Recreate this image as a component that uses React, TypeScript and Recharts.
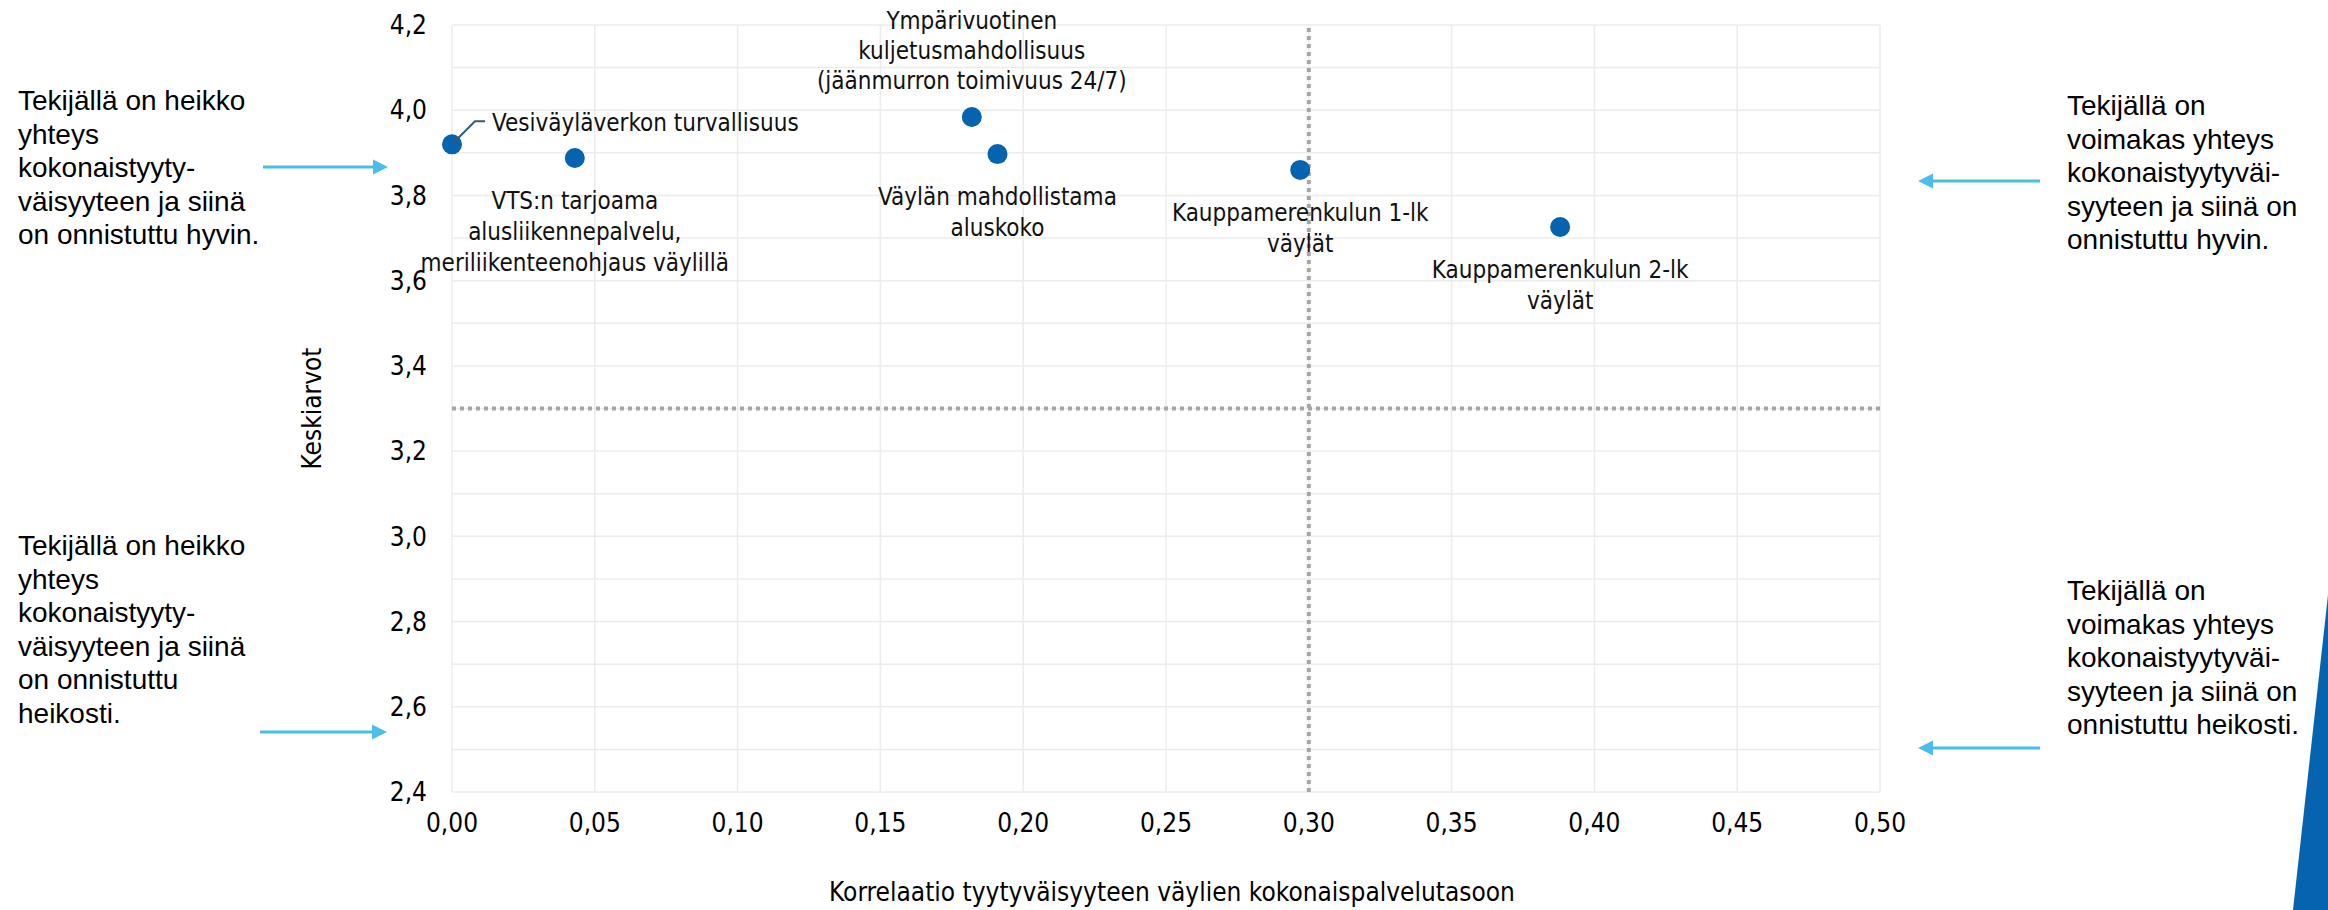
import React from 'react';
import {
  ScatterChart,
  Scatter,
  XAxis,
  YAxis,
  CartesianGrid,
  ReferenceLine,
} from 'recharts';

// factors (point labels, '\n' = line break)
const factorNames = [
  'Vesiväyläverkon turvallisuus',
  'VTS:n tarjoama\nalusliikennepalvelu,\nmeriliikenteenohjaus  väylillä',
  'Ympärivuotinen\nkuljetusmahdollisuus\n(jäänmurron toimivuus 24/7)',
  'Väylän mahdollistama\naluskoko',
  'Kauppamerenkulun 1-lk\nväylät',
  'Kauppamerenkulun 2-lk\nväylät',
];
// correlation with overall satisfaction
const correlations = [0.0, 0.043, 0.182, 0.191, 0.297, 0.388];
// mean scores
const means = [3.92, 3.888, 3.984, 3.897, 3.86, 3.726];
// where each label sits relative to its dot
const labelPlacement = ['leader', 'below', 'above', 'below', 'below', 'below'];

const xTicks = [0, 0.05, 0.1, 0.15, 0.2, 0.25, 0.3, 0.35, 0.4, 0.45, 0.5];
const yTicks = [2.4, 2.5, 2.6, 2.7, 2.8, 2.9, 3.0, 3.1, 3.2, 3.3, 3.4, 3.5, 3.6, 3.7, 3.8, 3.9, 4.0, 4.1, 4.2];

const dividerX = 0.3;
const dividerY = 3.3;

const xTitle = 'Korrelaatio tyytyväisyyteen väylien kokonaispalvelutasoon';
const yTitle = 'Keskiarvot';

const noteTopLeft = 'Tekijällä on heikko\nyhteys\nkokonaistyyty-\nväisyyteen ja siinä\non onnistuttu hyvin.';
const noteBottomLeft = 'Tekijällä on heikko\nyhteys\nkokonaistyyty-\nväisyyteen ja siinä\non onnistuttu\nheikosti.';
const noteTopRight = 'Tekijällä on\nvoimakas yhteys\nkokonaistyytyväi-\nsyyteen ja siinä on\nonnistuttu hyvin.';
const noteBottomRight = 'Tekijällä on\nvoimakas yhteys\nkokonaistyytyväi-\nsyyteen ja siinä on\nonnistuttu heikosti.';

const data = factorNames.map((name, i) => ({
  name,
  x: correlations[i],
  y: means[i],
  place: labelPlacement[i],
}));

const DOT = '#0563B0';
const ARROW = '#4BBDED';
const LABEL_FONT = '"DejaVu Sans Condensed", "DejaVu Sans", sans-serif';

const fmt = (v: number, d: number) => v.toFixed(d).replace('.', ',');

function PointShape(props: any) {
  const { cx, cy, payload } = props;
  const lines: string[] = payload.name.split('\n');
  const textProps = {
    fontFamily: LABEL_FONT,
    fontSize: 24,
    fill: '#111',
    dominantBaseline: 'central' as const,
  };
  let label: React.ReactNode = null;
  if (payload.place === 'leader') {
    label = (
      <g>
        <polyline
          points={`${cx},${cy} ${cx + 23},${cy - 23} ${cx + 33},${cy - 23}`}
          fill="none"
          stroke="#2E5E73"
          strokeWidth={2}
        />
        <text x={cx + 40} y={cy - 21} textAnchor="start" {...textProps}>
          {lines[0]}
        </text>
      </g>
    );
  } else if (payload.place === 'above') {
    label = lines.map((t, i) => (
      <text key={i} x={cx} y={cy - 36 - (lines.length - 1 - i) * 30} textAnchor="middle" {...textProps}>
        {t}
      </text>
    ));
  } else {
    label = lines.map((t, i) => (
      <text key={i} x={cx} y={cy + 43 + i * 31} textAnchor="middle" {...textProps}>
        {t}
      </text>
    ));
  }
  return (
    <g>
      <circle cx={cx} cy={cy} r={10} fill={DOT} />
      {label}
    </g>
  );
}

function Note({ text, left, top }: { text: string; left: number; top: number }) {
  return (
    <div
      style={{
        position: 'absolute',
        left,
        top,
        fontFamily: '"Liberation Sans", Arial, sans-serif',
        fontSize: 28,
        lineHeight: '33.6px',
        color: '#000',
        whiteSpace: 'pre',
      }}
    >
      {text}
    </div>
  );
}

function Arrow({ x1, x2, y }: { x1: number; x2: number; y: number }) {
  const dir = x2 > x1 ? 1 : -1;
  const base = x2 - dir * 15;
  return (
    <g>
      <line x1={x1} y1={y} x2={base} y2={y} stroke={ARROW} strokeWidth={3} />
      <polygon points={`${x2},${y} ${base},${y - 7.5} ${base},${y + 7.5}`} fill={ARROW} />
    </g>
  );
}

export default function App() {
  return (
    <div style={{ position: 'relative', width: 2328, height: 910, background: '#fff' }}>
      <style>{'body{margin:0}'}</style>
      <ScatterChart width={2328} height={910} margin={{ top: 25, right: 448, bottom: 0, left: 0 }}>
        <CartesianGrid stroke="#ECECEC" strokeWidth={1.5} />
        <XAxis
          type="number"
          dataKey="x"
          domain={[0, 0.5]}
          ticks={xTicks}
          tickFormatter={(v: number) => fmt(v, 2)}
          axisLine={false}
          tickLine={false}
          tickSize={0}
          tickMargin={22}
          height={118}
          tick={{ fill: '#000', fontSize: 26, fontFamily: LABEL_FONT }}
          label={{
            content: ({ viewBox }: any) => (
              <text
                x={viewBox.x + viewBox.width / 2 + 6}
                y={viewBox.y + 100}
                textAnchor="middle"
                dominantBaseline="central"
                fontFamily={LABEL_FONT}
                fontSize={26}
                fill="#000"
              >
                {xTitle}
              </text>
            ),
          }}
        />
        <YAxis
          type="number"
          dataKey="y"
          domain={[2.4, 4.2]}
          ticks={yTicks}
          interval={0}
          tickFormatter={(v: number) => (Math.round(v * 10) % 2 === 0 ? fmt(v, 1) : '')}
          axisLine={false}
          tickLine={false}
          tickSize={0}
          tickMargin={25}
          width={452}
          tick={{ fill: '#000', fontSize: 26, fontFamily: LABEL_FONT }}
          label={{
            content: ({ viewBox }: any) => {
              const cx = viewBox.x + viewBox.width - 140;
              const cy = viewBox.y + viewBox.height / 2;
              return (
                <text
                  x={cx}
                  y={cy}
                  transform={`rotate(-90 ${cx} ${cy})`}
                  textAnchor="middle"
                  dominantBaseline="central"
                  fontFamily={LABEL_FONT}
                  fontSize={26}
                  fill="#000"
                >
                  {yTitle}
                </text>
              );
            },
          }}
        />
        <ReferenceLine x={dividerX} stroke="#A6A6A6" strokeWidth={4} strokeDasharray="4 4" />
        <ReferenceLine y={dividerY} stroke="#A6A6A6" strokeWidth={4} strokeDasharray="4 4" />
        <Scatter data={data} shape={PointShape} isAnimationActive={false} />
      </ScatterChart>

      <svg
        width={2328}
        height={910}
        style={{ position: 'absolute', left: 0, top: 0, pointerEvents: 'none' }}
      >
        <Arrow x1={263} x2={388} y={167} />
        <Arrow x1={260} x2={387} y={732} />
        <Arrow x1={2040} x2={1918} y={181} />
        <Arrow x1={2040} x2={1918} y={748} />
        <polygon points="2328,595 2293,910 2328,910" fill={DOT} />
      </svg>

      <Note text={noteTopLeft} left={18} top={84} />
      <Note text={noteBottomLeft} left={18} top={529} />
      <Note text={noteTopRight} left={2067} top={89} />
      <Note text={noteBottomRight} left={2067} top={574} />
    </div>
  );
}
